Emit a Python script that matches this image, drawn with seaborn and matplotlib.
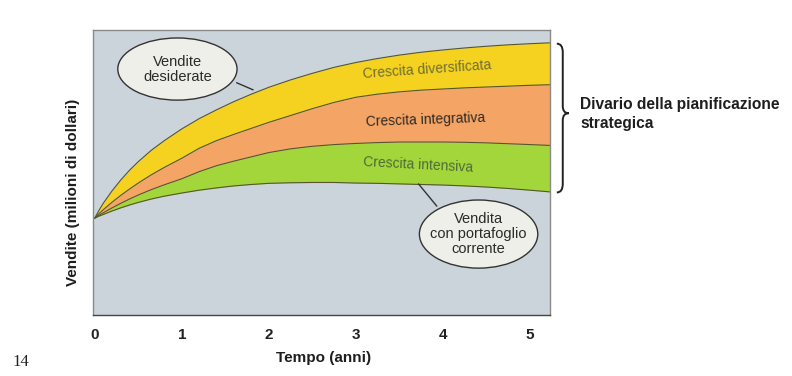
import numpy as np
import pandas as pd
import matplotlib
matplotlib.use("Agg")
import matplotlib.pyplot as plt
import seaborn as sns
from matplotlib.patches import Ellipse, PathPatch
from matplotlib.path import Path
import matplotlib.transforms as mtransforms

# years
anni = [0, 0.05, 0.1, 0.2, 0.3, 0.4, 0.5, 0.65, 0.8, 1.0, 1.2, 1.4, 1.6, 1.8,
        2.0, 2.25, 2.5, 2.75, 3.0, 3.25, 3.5, 3.75, 4.0, 4.25, 4.5, 4.75, 5.0, 5.23]
# band boundaries (relative sales units)
vendite_desiderate = [34.0, 36.8, 39.3, 43.6, 47.4, 50.8, 53.8, 57.8, 61.2, 65.3, 68.9, 72.0, 74.9, 77.5,
                      79.9, 82.5, 84.8, 86.9, 88.6, 90.0, 91.2, 92.2, 93.0, 93.7, 94.3, 94.8, 95.2, 95.5]
limite_integrativa = [34.0, 35.6, 37.0, 39.6, 42.0, 44.2, 46.3, 49.2, 51.8, 55.0, 58.5, 61.2, 63.4, 65.5,
                      67.6, 70.0, 72.4, 74.6, 76.4, 77.5, 78.3, 78.9, 79.3, 79.7, 80.0, 80.3, 80.6, 80.8]
limite_intensiva = [34.0, 35.0, 35.9, 37.6, 39.2, 40.7, 42.1, 44.0, 45.7, 47.8, 50.3, 52.4, 54.0, 55.5,
                    57.0, 58.3, 59.2, 59.8, 60.2, 60.5, 60.7, 60.7, 60.7, 60.6, 60.4, 60.1, 59.8, 59.5]
portafoglio_corrente = [34.0, 34.7, 35.3, 36.5, 37.6, 38.6, 39.5, 40.7, 41.7, 42.8, 43.8, 44.6, 45.3, 45.8,
                        46.2, 46.4, 46.5, 46.5, 46.3, 46.2, 46.0, 45.8, 45.6, 45.3, 44.9, 44.4, 43.8, 43.2]

tick_anni = [0, 1, 2, 3, 4, 5]

n = len(anni)
df = pd.DataFrame({
    "anni": anni * 4,
    "vendite": vendite_desiderate + limite_integrativa + limite_intensiva + portafoglio_corrente,
    "curva": ["desiderate"] * n + ["integrativa"] * n + ["intensiva"] * n + ["corrente"] * n,
})

sns.set_theme(style="white")
plt.rcParams["font.family"] = ["Liberation Sans Narrow", "Liberation Sans", "DejaVu Sans"]

fig = plt.figure(figsize=(7.92, 3.76), dpi=100)
ax = fig.add_axes([0.1174, 0.1622, 0.577, 0.758])
ax.set_facecolor("#cbd4db")

# bands
ax.fill_between(anni, limite_integrativa, vendite_desiderate, color="#f4d21f", lw=0)
ax.fill_between(anni, limite_intensiva, limite_integrativa, color="#f4a566", lw=0)
ax.fill_between(anni, portafoglio_corrente, limite_intensiva, color="#a3d63a", lw=0)

sns.lineplot(data=df, x="anni", y="vendite", units="curva", estimator=None,
             color="#55552e", lw=0.8, ax=ax, legend=False)

ax.set_xlim(-0.02, 5.23)
ax.set_ylim(0, 100)
ax.set_yticks([])
ax.set_xticks(tick_anni)
ax.set_xticklabels([str(t) for t in tick_anni], fontsize=11, fontweight="bold", color="#222222")
ax.tick_params(axis="x", direction="in", length=4, width=1, color="#444444", pad=9)
for s in ax.spines.values():
    s.set_color("#8a8a8a")
    s.set_linewidth(1)
ax.spines["bottom"].set_color("#444444")

ax.set_xlabel("Tempo (anni)", fontsize=11, fontweight="bold", color="#1e1e1e")
ax.xaxis.set_label_coords(0.505, -0.125)
ax.set_ylabel("Vendite (milioni di dollari)", fontsize=11, fontweight="bold", color="#1e1e1e")
ax.yaxis.set_label_coords(-0.028, 0.43)

# band labels
ax.text(3.82, 86, "Crescita diversificata", fontsize=10, color="#6f6f35",
        ha="center", va="center", rotation=4)
ax.text(3.8, 68.4, "Crescita integrativa", fontsize=10, color="#2e2a25",
        ha="center", va="center", rotation=2)
ax.text(3.72, 52.6, "Crescita intensiva", fontsize=10, color="#4f6b3a",
        ha="center", va="center", rotation=-3)

# callouts
ax.plot([1.63, 1.82], [81.5, 79.0], color="#333333", lw=1)
ax.add_patch(Ellipse((0.95, 86.3), 1.37, 21.8, facecolor="#efefea",
                     edgecolor="#333333", lw=1, zorder=5))
ax.text(0.95, 86.3, "Vendite\ndesiderate", fontsize=10.5, color="#2a2a2a",
        ha="center", va="center", linespacing=1.1, zorder=6)

ax.plot([3.72, 3.93], [46.0, 38.2], color="#333333", lw=1)
ax.add_patch(Ellipse((4.41, 28.4), 1.36, 23.9, facecolor="#efefea",
                     edgecolor="#333333", lw=1, zorder=5))
ax.text(4.41, 28.4, "Vendita\ncon portafoglio\ncorrente", fontsize=10.5, color="#2a2a2a",
        ha="center", va="center", linespacing=1.1, zorder=6)

# brace
trans = mtransforms.blended_transform_factory(ax.transAxes, ax.transData)
xa, xb, xc = 1.015, 1.028, 1.041
ytop, ymid, ybot = 95.2, 70.8, 43.0
verts = [(xa, ytop), (xb, ytop), (xb, ytop - 3),
         (xb, ymid + 2.5), (xb, ymid), (xc, ymid),
         (xb, ymid), (xb, ymid - 2.5),
         (xb, ybot + 3), (xb, ybot), (xa, ybot)]
codes = [Path.MOVETO, Path.CURVE3, Path.CURVE3,
         Path.LINETO, Path.CURVE3, Path.CURVE3,
         Path.CURVE3, Path.CURVE3,
         Path.LINETO, Path.CURVE3, Path.CURVE3]
ax.add_patch(PathPatch(Path(verts, codes), facecolor="none", edgecolor="#222222",
                       lw=1.4, transform=trans, clip_on=False))

fig.text(580 / 792, 1 - 114 / 376, "Divario della pianificazione\nstrategica",
         fontsize=11.2, fontweight="bold", color="#1e1e1e", ha="left", va="center",
         linespacing=1.3)

fig.text(12 / 792, 1 - 362 / 376, "14", fontsize=12, family=["Liberation Serif", "DejaVu Serif"],
         color="#222222", ha="left", va="center")

plt.savefig("out.png", dpi=100)
plt.close()
